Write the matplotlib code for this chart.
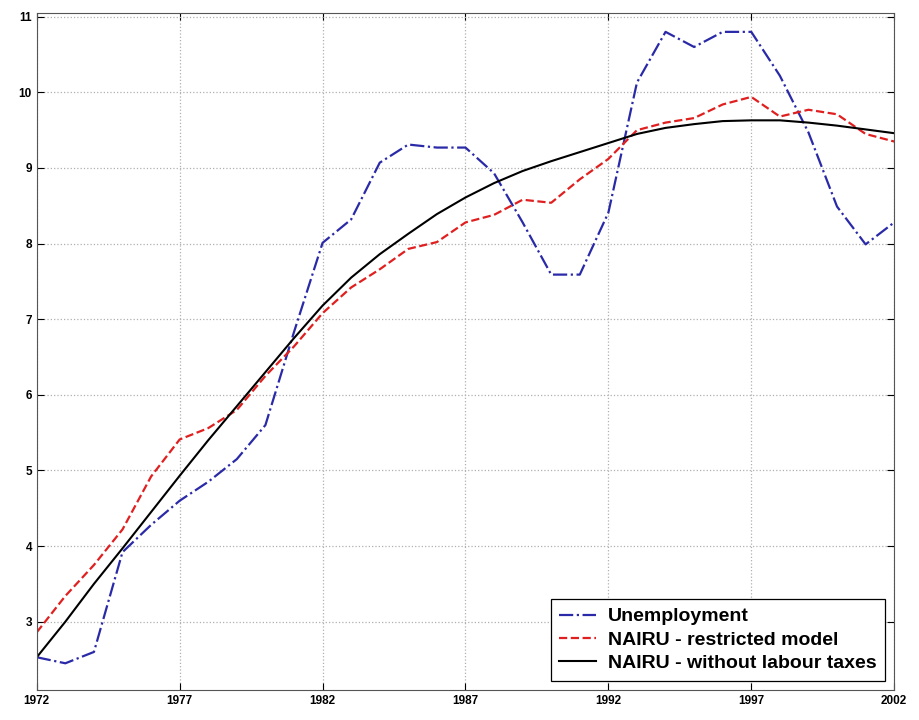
import matplotlib
matplotlib.use("Agg")
import matplotlib.pyplot as plt

# ========== DATA ==========
years = list(range(1972, 2003))

unemployment = [2.53, 2.45, 2.60, 3.92, 4.28, 4.60, 4.85, 5.15, 5.60, 6.83,
                8.01, 8.32, 9.07, 9.31, 9.27, 9.27, 8.93, 8.28, 7.59, 7.59,
                8.41, 10.13, 10.80, 10.60, 10.80, 10.80, 10.22, 9.47, 8.49, 7.99,
                8.28]

nairu_restricted = [2.86, 3.34, 3.75, 4.22, 4.92, 5.41, 5.56, 5.80, 6.25, 6.64,
                    7.08, 7.42, 7.66, 7.93, 8.02, 8.28, 8.38, 8.58, 8.54, 8.85,
                    9.12, 9.50, 9.60, 9.66, 9.84, 9.94, 9.68, 9.77, 9.71, 9.45,
                    9.35]

nairu_no_tax = [2.53, 3.00, 3.50, 3.97, 4.45, 4.93, 5.40, 5.85, 6.30, 6.75,
                7.18, 7.55, 7.86, 8.13, 8.39, 8.61, 8.80, 8.96, 9.09, 9.21,
                9.33, 9.45, 9.53, 9.58, 9.62, 9.63, 9.63, 9.60, 9.56, 9.51,
                9.46]

x_ticks = [1972, 1977, 1982, 1987, 1992, 1997, 2002]
y_ticks = [3, 4, 5, 6, 7, 8, 9, 10, 11]

# ========== PLOT ==========
plt.rcParams["font.family"] = ["Liberation Sans", "DejaVu Sans"]

fig = plt.figure(figsize=(9.19, 7.2), dpi=100)
ax = fig.add_axes([0.040, 0.042, 0.933, 0.940])

ax.plot(years, unemployment, color="#2a2aa8", linestyle="-.", linewidth=1.6,
        label="Unemployment")
ax.plot(years, nairu_restricted, color="#e02020", linestyle="--", linewidth=1.6,
        label="NAIRU - restricted model")
ax.plot(years, nairu_no_tax, color="black", linestyle="-", linewidth=1.5,
        label="NAIRU - without labour taxes")

ax.set_xlim(1972, 2002)
ax.set_ylim(2.1, 11.05)
ax.set_xticks(x_ticks)
ax.set_yticks(y_ticks)
ax.tick_params(direction="in", top=True, right=True, labelsize=8.5, length=5)
for lbl in ax.get_xticklabels() + ax.get_yticklabels():
    lbl.set_fontweight("bold")
ax.grid(True, linestyle=":", color="#b0b0b0", linewidth=0.9)
for sp in ax.spines.values():
    sp.set_color("#555555")

leg = ax.legend(loc="lower right", prop={"size": 14, "weight": "bold"},
                fancybox=False, framealpha=1, edgecolor="black",
                handlelength=1.9, borderpad=0.45, labelspacing=0.3,
                handletextpad=0.6, borderaxespad=0.45)
leg.get_frame().set_linewidth(0.9)

fig.savefig("out.png", dpi=100)
